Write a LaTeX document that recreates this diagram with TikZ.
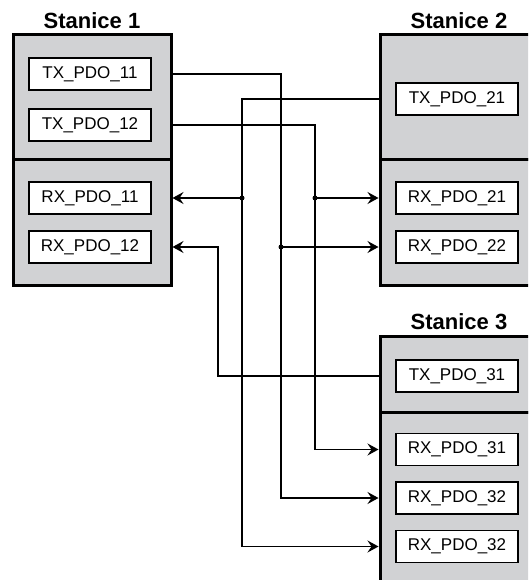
\documentclass[tikz,border=0pt]{standalone}
\usepackage{fontspec}
\setmainfont{Liberation Sans}
\usetikzlibrary{arrows.meta,positioning}
\definecolor{stgray}{RGB}{209,210,212}

\begin{document}
\begin{tikzpicture}[x=1pt,y=-1pt,
  station/.style={draw,fill=stgray,line width=3pt,minimum width=158pt,inner sep=0pt},
  pdo/.style={draw,fill=white,line width=1.4pt,minimum width=122pt,minimum height=32pt,inner sep=0pt,font=\fontsize{17}{20}\selectfont},
  title/.style={inner sep=0pt,font=\fontsize{22}{26}\selectfont\bfseries},
  link/.style={line width=1.3pt},
  arr/.style={link,-{Stealth[length=11pt,width=12pt,inset=4pt]}}]
\useasboundingbox (0,0) rectangle (528,580);
\clip (0,0) rectangle (528,580);

% station boxes
\node[station,minimum height=125pt] (s1tx) at (92,97.5) {};
\node[station,minimum height=125pt] (s1rx) at (92,222.5) {};
\node[station,minimum height=125pt] (s2tx) at (459,97.5) {};
\node[station,minimum height=125pt] (s2rx) at (459,222.5) {};
\node[station,minimum height=76pt] (s3tx) at (459,374) {};
\node[station,minimum height=176pt] (s3rx) at (459,500) {};

% titles
\node[title,above=4.5pt of s1tx] (t1) {Stanice 1};
\node[title,above=4.5pt of s2tx] (t2) {Stanice 2};
\node[title,above=5pt of s3tx] (t3) {Stanice 3};

% PDO boxes
\node[pdo] (tx11) at (90,74) {TX\_PDO\_11};
\node[pdo] (tx12) at (90,125) {TX\_PDO\_12};
\node[pdo] (rx11) at (90,198) {RX\_PDO\_11};
\node[pdo] (rx12) at (90,247) {RX\_PDO\_12};
\node[pdo] (tx21) at (457,99) {TX\_PDO\_21};
\node[pdo] (rx21) at (457,198) {RX\_PDO\_21};
\node[pdo] (rx22) at (457,247) {RX\_PDO\_22};
\node[pdo] (tx31) at (457,376) {TX\_PDO\_31};
\node[pdo] (rx31) at (457,449.5) {RX\_PDO\_31};
\node[pdo] (rx32) at (457,498) {RX\_PDO\_32};
\node[pdo] (rx33) at (457,546.5) {RX\_PDO\_32};

% vertical lanes
\coordinate (lA) at (218,0);
\coordinate (lB) at (242,0);
\coordinate (lC) at (281,0);
\coordinate (lD) at (315,0);

% connectors
\draw[arr] (s1tx.east |- tx11) -| (lC |- rx32) -- (s3rx.west |- rx32);
\draw[arr] (s1tx.east |- tx12) -| (lD |- rx31) -- (s3rx.west |- rx31);
\draw[arr] (s2tx.west |- tx21) -| (lB |- rx33) -- (s3rx.west |- rx33);
\draw[arr] (s3tx.west |- tx31) -| (lA |- rx12) -- (s1rx.east |- rx12);

% branches
\draw[arr] (lC |- rx22) -- (s2rx.west |- rx22);
\draw[arr] (lD |- rx21) -- (s2rx.west |- rx21);
\draw[arr] (lB |- rx11) -- (s1rx.east |- rx11);
\fill (lC |- rx22) circle (2.5pt);
\fill (lD |- rx21) circle (2.5pt);
\fill (lB |- rx11) circle (2.5pt);

\end{tikzpicture}
\end{document}
